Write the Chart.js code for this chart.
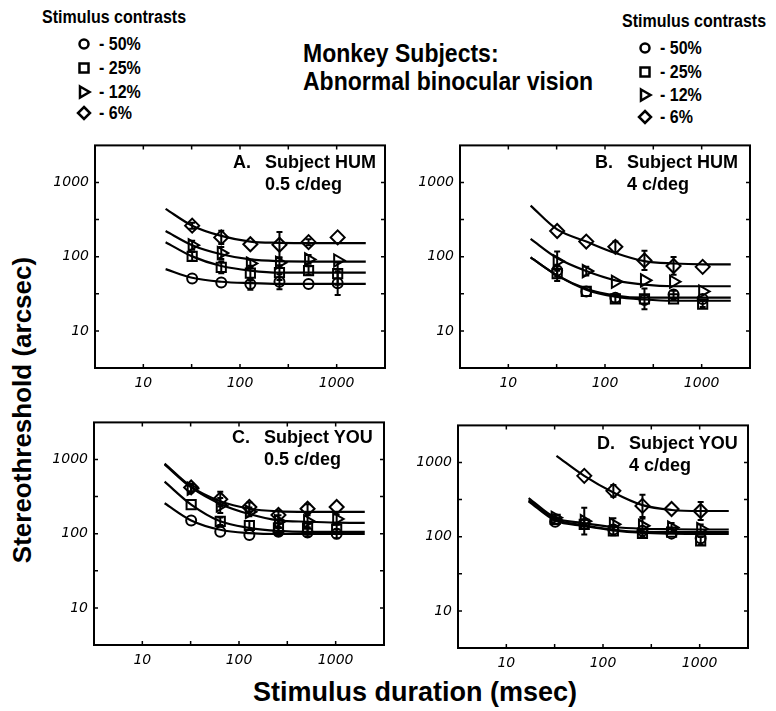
<!DOCTYPE html>
<html>
<head>
<meta charset="utf-8">
<script src="https://cdn.jsdelivr.net/npm/chart.js@4.4.0/dist/chart.umd.min.js"></script>
<style>
  body { margin: 0; background: #fff; width: 776px; height: 711px; position: relative; overflow: hidden;
         font-family: "Liberation Sans", Arial, sans-serif; color: #000; }
  .t { position: absolute; font-weight: bold; white-space: nowrap; line-height: 1; }
  .tall { transform: scaleY(1.15); transform-origin: left top; }
  canvas { position: absolute; }
  svg { position: absolute; }
</style>
</head>
<body>

<!-- legends and titles -->
<div class="t tall" style="left:42px;top:8px;font-size:16px;">Stimulus contrasts</div>
<div class="t tall" style="left:622px;top:12px;font-size:16px;">Stimulus contrasts</div>
<div id="legL"></div>
<div id="legR"></div>
<div class="t tall" style="left:303px;top:40px;font-size:23px;">Monkey Subjects:</div>
<div class="t tall" style="left:303px;top:68px;font-size:23px;">Abnormal binocular vision</div>

<div class="t" style="left:22px;top:410px;font-size:26px;transform:translate(-50%,-50%) rotate(-90deg);">Stereothreshold (arcsec)</div>
<div class="t" style="left:415px;top:692px;font-size:27px;transform:translate(-50%,-50%);">Stimulus duration (msec)</div>

<canvas id="pA"></canvas>
<canvas id="pB"></canvas>
<canvas id="pC"></canvas>
<canvas id="pD"></canvas>

<div id="labels"></div>

<script>
// durations (msec) of the measured points and of the fitted curves
const durations = [32, 64, 128, 256, 512, 1024];
const fitDur = [17, 32, 64, 128, 256, 512, 1024, 2000];
const fitDurD6 = [33, 64, 128, 256, 512, 1024, 2000];
const tickLabels = [10, 100, 1000];
const tickMarks = [10, 31.6, 100, 316, 1000];
const contrasts = ['50%', '25%', '12%', '6%'];

// Panel A: Subject HUM, 0.5 c/deg (thresholds in arcsec)
const A_c50 = [51, 45, 43, 46, 43, 44];
const A_c25 = [101, 72, 60, 61, 65, 59];
const A_c12 = [143, 112, 81, 83, 92, 89];
const A_c6 = [262, 182, 147, 145, 157, 182];
const A_err50 = [0, 0, 0.08, 0.1, 0, 0.16];
const A_err25 = [0.06, 0.08, 0.1, 0.1, 0.06, 0.15];
const A_err12 = [0.06, 0.08, 0.05, 0.06, 0.06, 0];
const A_err6 = [0.04, 0.09, 0, 0.17, 0.04, 0];
const A_fit50 = [68, 52, 46, 44, 43, 43, 43, 43];
const A_fit25 = [157, 101, 75, 65, 61, 61, 61, 61];
const A_fit12 = [222, 143, 108, 92, 87, 86, 86, 86];
const A_fit6 = [441, 262, 191, 160, 154, 152, 152, 152];

// Panel B: Subject HUM, 4 c/deg
const B_c50 = [65, 34, 28, 26, 31, 27];
const B_c25 = [59, 34, 27, 27, 27, 23];
const B_c12 = [87, 64, 46, 48, 46, 34];
const B_c6 = [222, 160, 136, 89, 75, 73];
const B_err50 = [0.08, 0, 0, 0, 0.05, 0];
const B_err25 = [0.1, 0, 0.05, 0.14, 0, 0.04];
const B_err12 = [0.13, 0.06, 0, 0, 0, 0];
const B_err6 = [0, 0, 0.07, 0.13, 0.12, 0];
const B_fit50 = [98, 56, 37, 30, 28, 28, 28, 28];
const B_fit25 = [98, 56, 36, 29, 26.5, 25.5, 25.5, 25.5];
const B_fit12 = [174, 96, 64, 48, 42, 40, 40, 40];
const B_fit6 = [488, 233, 160, 112, 87, 81, 79, 79];

// Panel C: Subject YOU, 0.5 c/deg
const C_c50 = [151, 106, 96, 106, 104, 100];
const C_c25 = [247, 147, 129, 120, 120, 115];
const C_c12 = [405, 240, 197, 147, 147, 158];
const C_c6 = [420, 292, 229, 179, 217, 229];
const C_err50 = [0, 0, 0, 0.05, 0.05, 0.06];
const C_err25 = [0, 0.05, 0.06, 0.06, 0.06, 0.06];
const C_err12 = [0.05, 0.1, 0.06, 0.08, 0.08, 0.06];
const C_err6 = [0.05, 0.1, 0.06, 0.06, 0.06, 0];
const C_fit50 = [257, 151, 113, 102, 99, 99, 99, 99];
const C_fit25 = [503, 247, 147, 120, 109, 106, 106, 106];
const C_fit12 = [860, 420, 252, 184, 151, 145, 141, 140];
const C_fit6 = [880, 430, 273, 217, 200, 197, 197, 197];

// Panel D: Subject YOU, 4 c/deg
const D_c50 = [159, 148, 125, 120, 110, 95];
const D_c25 = [171, 147, 120, 111, 115, 88];
const D_c12 = [180, 162, 147, 140, 133, 127];
const D_c6 = [null, 661, 415, 260, 236, 222];
const D_err50 = [0, 0, 0, 0, 0, 0];
const D_err25 = [0, 0.06, 0.06, 0.05, 0, 0.05];
const D_err12 = [0.04, 0.18, 0.08, 0.1, 0.06, 0.06];
const D_err6 = [0, 0, 0.08, 0.15, 0, 0.12];
const D_fit50 = [300, 165, 140, 122, 113, 110, 109, 109];
const D_fit25 = [310, 170, 143, 124, 116, 115, 115, 115];
const D_fit12 = [331, 180, 152, 135, 128, 126, 125, 125];
const D_fit6 = [1231, 661, 394, 266, 229, 222, 222];

// marker look for 50%, 25%, 12%, 6%
const markStyle = [
  { pointStyle: 'circle', r: 5, rot: 0 },
  { pointStyle: 'rect', r: 6.5, rot: 0 },
  { pointStyle: 'triangle', r: 7, rot: 90 },
  { pointStyle: 'rectRot', r: 7, rot: 0 }
];

const PADL = 70, PADT = 4, PADR = 6, PADB = 32;

// box around the plot with inward ticks on all four sides
const framePlugin = {
  id: 'frame',
  afterDraw(chart) {
    const { ctx, chartArea: a, scales } = chart;
    ctx.save();
    ctx.strokeStyle = '#000';
    ctx.lineWidth = 2;
    ctx.strokeRect(a.left, a.top, a.right - a.left, a.bottom - a.top);
    ctx.lineWidth = 1.5;
    ctx.beginPath();
    tickMarks.forEach(v => {
      const px = scales.x.getPixelForValue(v);
      ctx.moveTo(px, a.bottom); ctx.lineTo(px, a.bottom - 4);
      ctx.moveTo(px, a.top); ctx.lineTo(px, a.top + 4);
      const py = scales.y.getPixelForValue(v);
      ctx.moveTo(a.left, py); ctx.lineTo(a.left + 4, py);
      ctx.moveTo(a.right, py); ctx.lineTo(a.right - 4, py);
    });
    ctx.stroke();
    ctx.restore();
  }
};

// vertical error bars (half width given in log units)
const errPlugin = {
  id: 'errbars',
  afterDatasetsDraw(chart) {
    const { ctx, scales } = chart;
    ctx.save();
    ctx.strokeStyle = '#000';
    ctx.lineWidth = 2;
    chart.data.datasets.forEach(ds => {
      if (ds.isFit) return;
      ds.data.forEach(p => {
        if (!p.e) return;
        const px = scales.x.getPixelForValue(p.x);
        const y1 = scales.y.getPixelForValue(p.y / Math.pow(10, p.e));
        const y2 = scales.y.getPixelForValue(p.y * Math.pow(10, p.e));
        ctx.beginPath();
        ctx.moveTo(px, y1); ctx.lineTo(px, y2);
        ctx.moveTo(px - 3, y1); ctx.lineTo(px + 3, y1);
        ctx.moveTo(px - 3, y2); ctx.lineTo(px + 3, y2);
        ctx.stroke();
      });
    });
    ctx.restore();
  }
};

function logAxis(isX) {
  return {
    type: 'logarithmic',
    min: Math.sqrt(10),
    max: 1000 * Math.sqrt(10),
    grid: { display: false, drawTicks: false },
    border: { display: false },
    afterBuildTicks: s => { s.ticks = tickLabels.map(v => ({ value: v })); },
    afterFit: s => { if (isX) s.height = PADB; else s.width = PADL; },
    ticks: {
      autoSkip: false, maxRotation: 0,
      padding: isX ? 7 : 6,
      color: '#000',
      font: { family: 'DejaVu Sans', style: 'italic', size: 14 },
      callback: v => String(v)
    }
  };
}

function makePanel(id, box, marks, errs, fits, fitXs) {
  const cv = document.getElementById(id);
  cv.width = box.w + PADL + PADR;
  cv.height = box.h + PADT + PADB;
  cv.style.left = (box.l - PADL) + 'px';
  cv.style.top = (box.t - PADT) + 'px';

  const datasets = [];
  marks.forEach((vals, k) => {
    const pts = [];
    vals.forEach((v, i) => { if (v != null) pts.push({ x: durations[i], y: v, e: errs[k][i] }); });
    datasets.push({
      data: pts, showLine: false,
      pointStyle: markStyle[k].pointStyle, pointRadius: markStyle[k].r,
      pointRotation: markStyle[k].rot, pointBorderWidth: 2,
      borderColor: '#000', backgroundColor: 'rgba(255,255,255,0)'
    });
  });
  fits.forEach((vals, k) => {
    datasets.push({
      isFit: true,
      data: vals.map((v, i) => ({ x: fitXs[k][i], y: v })),
      showLine: true, pointRadius: 0, borderColor: '#000', borderWidth: 2.2,
      cubicInterpolationMode: 'monotone', fill: false
    });
  });

  new Chart(cv, {
    type: 'scatter',
    data: { datasets },
    options: {
      responsive: false, animation: false, devicePixelRatio: 1,
      layout: { padding: { top: PADT, right: PADR, left: 0, bottom: 0 } },
      plugins: { legend: { display: false }, tooltip: { enabled: false } },
      scales: { x: logAxis(true), y: logAxis(false) }
    },
    plugins: [errPlugin, framePlugin]
  });
}

makePanel('pA', { l: 95, t: 135, w: 293, h: 233 },
  [A_c50, A_c25, A_c12, A_c6], [A_err50, A_err25, A_err12, A_err6],
  [A_fit50, A_fit25, A_fit12, A_fit6], [fitDur, fitDur, fitDur, fitDur]);
makePanel('pB', { l: 460, t: 135, w: 293, h: 233 },
  [B_c50, B_c25, B_c12, B_c6], [B_err50, B_err25, B_err12, B_err6],
  [B_fit50, B_fit25, B_fit12, B_fit6], [fitDur, fitDur, fitDur, fitDur]);
makePanel('pC', { l: 94, t: 412, w: 293, h: 233 },
  [C_c50, C_c25, C_c12, C_c6], [C_err50, C_err25, C_err12, C_err6],
  [C_fit50, C_fit25, C_fit12, C_fit6], [fitDur, fitDur, fitDur, fitDur]);
makePanel('pD', { l: 458, t: 415, w: 293, h: 233 },
  [D_c50, D_c25, D_c12, D_c6], [D_err50, D_err25, D_err12, D_err6],
  [D_fit50, D_fit25, D_fit12, D_fit6], [fitDur, fitDur, fitDur, fitDurD6]);

// panel captions
const captions = [
  ['A.', 'Subject HUM', '0.5 c/deg', 233, 153],
  ['B.', 'Subject HUM', '4 c/deg', 595, 153],
  ['C.', 'Subject YOU', '0.5 c/deg', 232, 428],
  ['D.', 'Subject YOU', '4 c/deg', 597, 434]
];
let html = '';
captions.forEach(c => {
  html += `<div class="t" style="left:${c[3]}px;top:${c[4]}px;font-size:18px;">${c[0]}</div>`;
  html += `<div class="t" style="left:${c[3] + 32}px;top:${c[4]}px;font-size:18px;">${c[1]}</div>`;
  html += `<div class="t" style="left:${c[3] + 32}px;top:${c[4] + 22}px;font-size:18px;">${c[2]}</div>`;
});
document.getElementById('labels').innerHTML = html;

// legend symbols
function symbol(k) {
  const s = 'fill="none" stroke="#000" stroke-width="2.5"';
  if (k === 0) return `<circle cx="8" cy="8" r="4.5" ${s}/>`;
  if (k === 1) return `<rect x="3.5" y="3.5" width="9" height="9" ${s}/>`;
  if (k === 2) return `<polygon points="4,2.5 13.5,8 4,13.5" ${s}/>`;
  return `<polygon points="8,2 14,8 8,14 2,8" ${s}/>`;
}
function legend(el, symX, textX, rows) {
  let h = '';
  contrasts.forEach((c, k) => {
    h += `<svg width="16" height="16" style="left:${symX - 8}px;top:${rows[k] - 8}px">${symbol(k)}</svg>`;
    h += `<div class="t tall" style="left:${textX}px;top:${rows[k] - 9}px;font-size:16px;">- ${c}</div>`;
  });
  document.getElementById(el).innerHTML = h;
}
legend('legL', 84, 99, [44, 68, 92, 113]);
legend('legR', 645, 660, [48, 72, 95, 117]);
</script>
</body>
</html>
